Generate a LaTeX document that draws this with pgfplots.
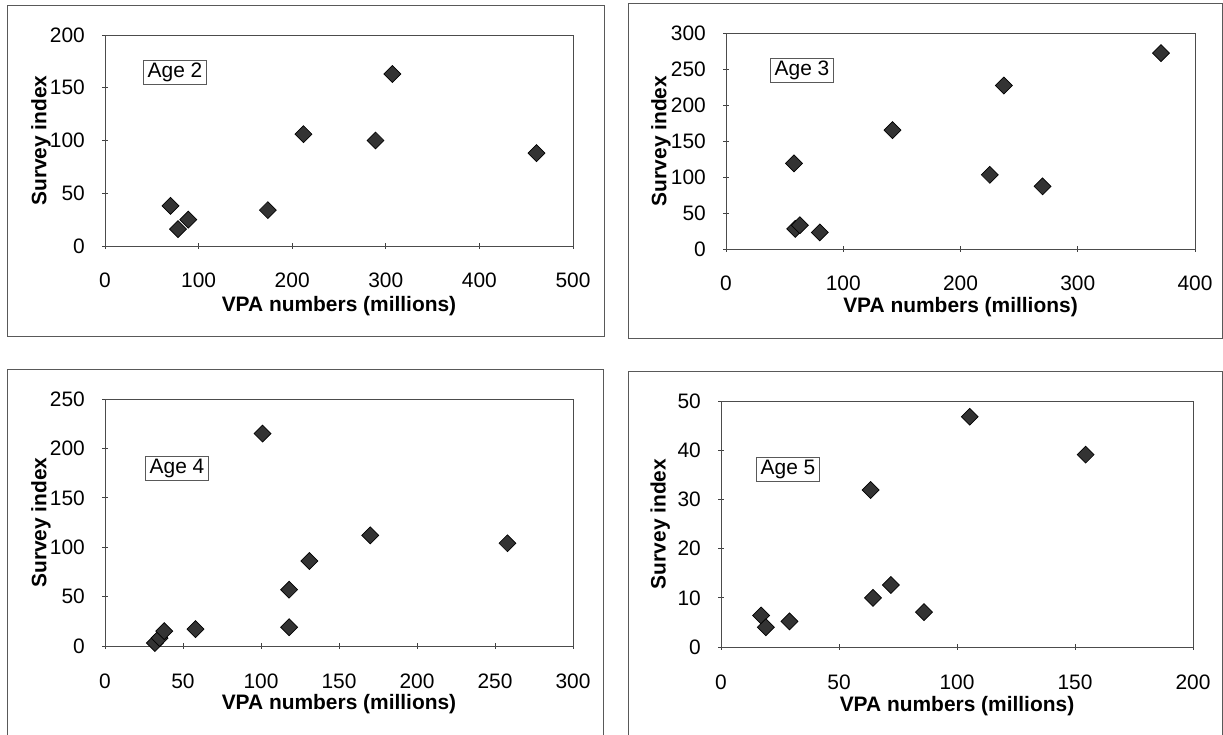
\documentclass[border=0pt]{standalone}
\usepackage{fontspec}
\setmainfont{Liberation Sans}
\usepackage{pgfplots}
\pgfplotsset{compat=1.18}

\pgfplotsset{
 panel/.style={
   scale only axis, anchor=south west,
   axis line style={draw=black!70, line width=0.8bp},
   tick style={draw=black!75, line width=0.8bp},
   major tick length=6bp,
   tick align=center,
   xtick pos=left, ytick pos=left,
   xmin=0, ymin=0,
   /pgf/number format/assume math mode=true,
   tick label style={font=\fontsize{21}{25}\selectfont, inner sep=0pt},
   xticklabel style={anchor=base, yshift=-39bp},
   yticklabel style={anchor=east, xshift=-17bp},
   label style={font=\bfseries\fontsize{21}{25}\selectfont, inner sep=0pt},
   xlabel={VPA numbers (millions)},
   ylabel={Survey index},
   clip=false,
   scaled ticks=false,
 },
 dia/.style={only marks, mark=square*, mark size=6bp,
   mark options={rotate=45, fill=black!80, draw=black, line width=0.7bp}},
}
\tikzset{agebox/.style={draw=black!65, line width=0.8bp, inner xsep=4.5bp, inner ysep=2.5bp,
   font=\fontsize{21}{25}\selectfont, text height=15bp, text depth=4bp, fill=white}}

\begin{document}
\begin{tikzpicture}
\useasboundingbox (0,0) rectangle (1223bp,735bp);
% panel frames
\draw[black!65, line width=1bp] (7bp,398bp) rectangle (604bp,729bp);
\draw[black!65, line width=1bp] (628bp,396bp) rectangle (1222bp,731bp);
\draw[black!65, line width=1bp] (7bp,0bp) -- (7bp,365bp) -- (603bp,365bp) -- (603bp,0bp);
\draw[black!65, line width=1bp] (628bp,0bp) -- (628bp,363bp) -- (1222bp,363bp) -- (1222bp,0bp);

% Age 2
\begin{axis}[panel, at={(105bp,489bp)}, width=468bp, height=211bp,
  xmax=500, ymax=200, xtick={0,100,...,500}, ytick={0,50,...,200},
  xlabel style={at={(axis description cs:0.5,-0.3128)}, anchor=base},
  ylabel style={at={(axis description cs:-0.1368,0.5)}, anchor=center}]
\addplot[dia] coordinates {(70,38) (78,16) (89,25) (174,34) (212,106) (289,100) (307,163) (461,88)};
\end{axis}

% Age 3
\begin{axis}[panel, at={(726bp,486bp)}, width=469bp, height=216bp,
  xmax=400, ymax=300, xtick={0,100,...,400}, ytick={0,50,...,300},
  xlabel style={at={(axis description cs:0.5,-0.2917)}, anchor=base},
  ylabel style={at={(axis description cs:-0.1386,0.5)}, anchor=center}]
\addplot[dia] coordinates {(58,119) (59,28) (63,33) (80,23) (142,165) (225,103) (237,227) (270,87) (371,272)};
\end{axis}

% Age 4
\begin{axis}[panel, at={(105bp,89bp)}, width=468bp, height=247bp,
  xmax=300, ymax=250, xtick={0,50,...,300}, ytick={0,50,...,250},
  xlabel style={at={(axis description cs:0.5,-0.259)}, anchor=base},
  ylabel style={at={(axis description cs:-0.1368,0.5)}, anchor=center}]
\addplot[dia] coordinates {(32,3) (35,8) (38,15) (58,17) (101,215) (118,57) (118,19) (131,86) (170,112) (258,104)};
\end{axis}

% Age 5
\begin{axis}[panel, at={(721bp,88bp)}, width=472bp, height=246bp,
  xmax=200, ymax=50, xtick={0,50,...,200}, ytick={0,10,...,50},
  xlabel style={at={(axis description cs:0.5,-0.264)}, anchor=base},
  ylabel style={at={(axis description cs:-0.129,0.5)}, anchor=center}]
\addplot[dia] coordinates {(17,6.4) (19,4) (29,5.2) (63.4,31.9) (64.4,10) (72,12.6) (86,7.1) (105.4,46.8) (154.5,39.1)};
\end{axis}

\node[agebox] at (175bp,663bp) {Age 2};
\node[agebox] at (802bp,665bp) {Age 3};
\node[agebox] at (177bp,267bp) {Age 4};
\node[agebox] at (788bp,266bp) {Age 5};
\end{tikzpicture}
\end{document}
